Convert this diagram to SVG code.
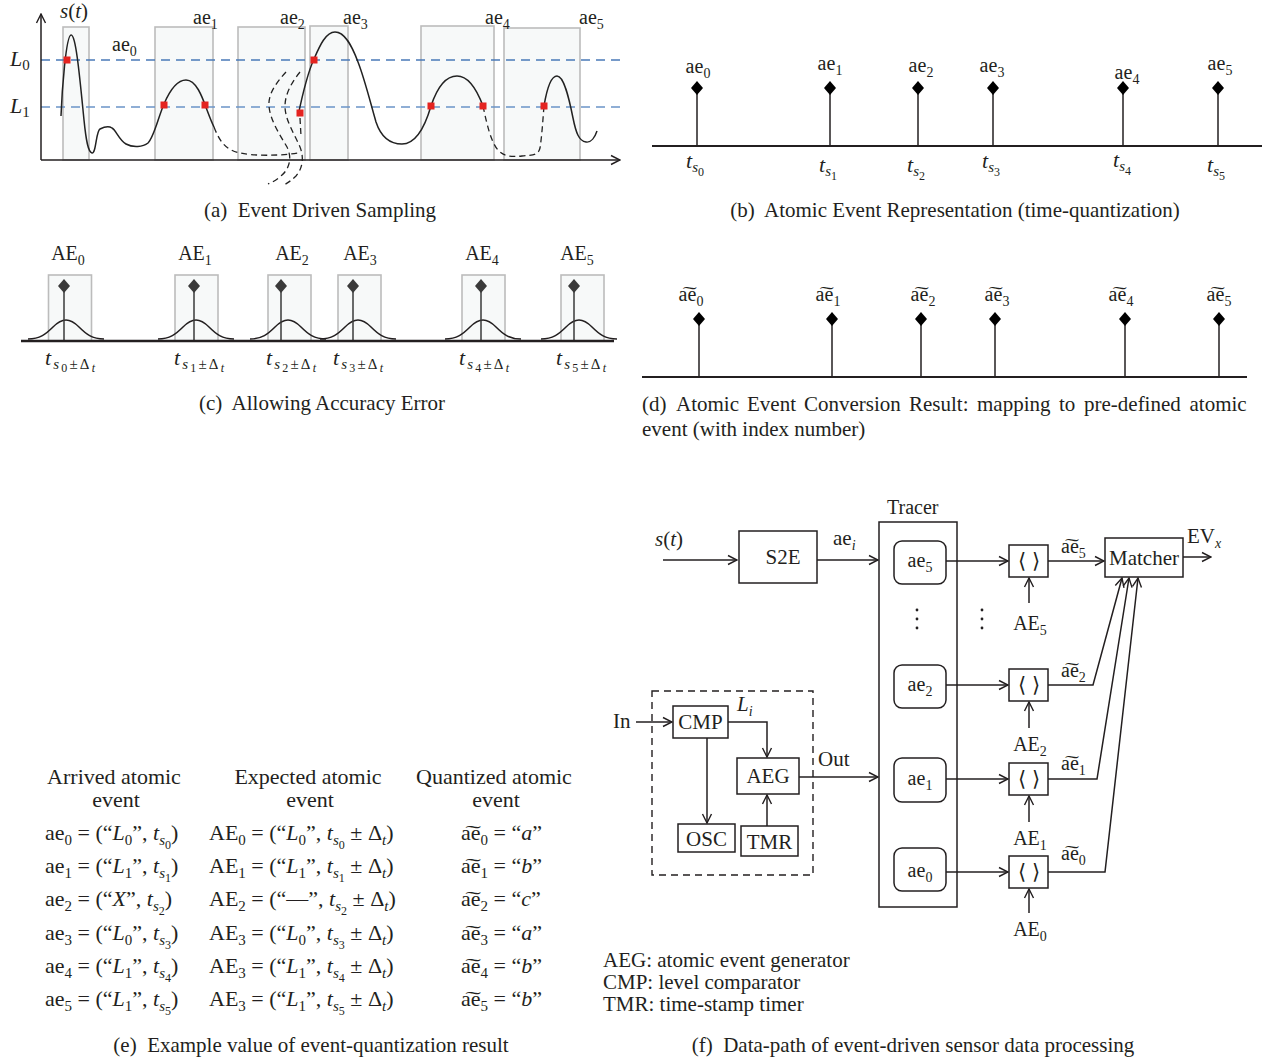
<svg xmlns="http://www.w3.org/2000/svg" width="1262" height="1062" viewBox="0 0 1262 1062">
<defs>
<marker id="arr" viewBox="0 0 12 12" refX="11" refY="6" markerWidth="12" markerHeight="12" markerUnits="userSpaceOnUse" orient="auto"><path d="M2,1.5 L11,6 L2,10.5" fill="none" stroke="#231f20" stroke-width="1.4"/></marker>
<path id="dia" d="M0,-7 L6,0 L0,7 L-6,0 Z"/>
<path id="bell" d="M-38,339 C-26,339 -20,334 -13,327 C-7,321 -4,320 0,320 C4,320 7,321 13,327 C20,334 26,339 38,339" fill="none" stroke="#231f20" stroke-width="1.5"/>
</defs>
<style>
text{font-family:"Liberation Serif","Times New Roman",serif;fill:#231f20}
.f20{font-size:20px}
.f21{font-size:21px}
.f22{font-size:22px}
.cap{font-size:21px}
.i{font-style:italic}
.sb{font-size:14px}
.sb2{font-size:15px}
.ss{font-size:10px}
.ss2{font-size:12px}
.mid{text-anchor:middle}
.ln{stroke:#231f20;stroke-width:1.5;fill:none}
.box{fill:#fff;stroke:#231f20;stroke-width:1.5}
.gbox{fill:#f7f9f9;stroke:#bcbcbc;stroke-width:1.6}
.lvl{stroke:#6b94c8;stroke-width:1.4;stroke-dasharray:9 6}
.crv{stroke:#222;stroke-width:1.5;fill:none}
.dash{stroke:#222;stroke-width:1.3;fill:none;stroke-dasharray:6 4}
.red{fill:#e42320}
.stem{stroke:#231f20;stroke-width:1.5}
.gstem{stroke:#3a3a3a;stroke-width:1.5}
</style>

<!-- Panel (a) -->
<g id="panel-a">
<rect class="gbox" x="63" y="27" width="26" height="133"/>
<rect class="gbox" x="155" y="27" width="58" height="133"/>
<rect class="gbox" x="238" y="27" width="67" height="133"/>
<rect class="gbox" x="310" y="26" width="38" height="134"/>
<rect class="gbox" x="421" y="26" width="73" height="134"/>
<rect class="gbox" x="504" y="28" width="76" height="132"/>
<line class="lvl" x1="41" y1="60" x2="625" y2="60" style="stroke:#4a7ab8"/>
<line class="lvl" x1="41" y1="107" x2="625" y2="107"/>
<path class="crv" d="M61,116 C62,90 66,36 71,35 C76,34 80,80 84,120 C86,140 88,152 92,153 C96,154 96,131 100,129 C104,127 109,126 112,128 C116,130 119,140 126,144 C133,148 143,147 148,143 C154,137 158,118 164,104 C170,90 177,80 186,80 C196,80 202,96 207,110 C210,118 212,123 214,127"/>
<path class="dash" d="M214,127 C219,140 225,150 240,153 C255,156 278,156 298,153"/>
<path class="dash" d="M286,72 C275,84 268,95 269,106 C270,120 280,135 287,147 C292,157 290,168 282,175 C278,179 273,182 268,184"/>
<path class="dash" d="M300,72 C291,83 285,95 285,106 C285,120 294,133 300,147 C304,157 303,168 296,176 C292,180 289,182 284,185"/>
<path class="dash" d="M300,118 L301,136"/>
<path class="crv" d="M298,116 C303,92 308,72 314,59 C320,45 326,32 335,32 C345,32 352,46 358,62 C365,80 371,105 376,122 C381,137 390,144 402,144 C414,144 424,130 431,106 C437,88 446,76 457,76 C468,76 477,90 483,106"/>
<path class="dash" d="M483,106 C487,125 491,142 498,150 C504,157 512,157 522,156 C532,155 538,156 540,148 C542,135 543,118 544,106"/>
<path class="crv" d="M544,106 C547,88 551,76 557,76 C564,76 569,98 573,118 C576,133 579,141 586,142 C591,143 595,137 597,131"/>
<rect class="red" x="63.5" y="56.5" width="7" height="7"/>
<rect class="red" x="160.5" y="101.5" width="7" height="7"/>
<rect class="red" x="201.5" y="101.5" width="7" height="7"/>
<rect class="red" x="296.5" y="109.5" width="7" height="7"/>
<rect class="red" x="310.5" y="56.5" width="7" height="7"/>
<rect class="red" x="427.5" y="102.5" width="7" height="7"/>
<rect class="red" x="479.5" y="102.5" width="7" height="7"/>
<rect class="red" x="540.5" y="102.5" width="7" height="7"/>
<path class="ln" d="M41,160 V14" marker-end="url(#arr)"/>
<path class="ln" d="M41,160 H620" marker-end="url(#arr)"/>
<text class="f21" x="60" y="18"><tspan class="i">s</tspan>(<tspan class="i">t</tspan>)</text>
<text class="f22" x="10" y="66"><tspan class="i">L</tspan><tspan class="sb2" dy="4">0</tspan></text>
<text class="f22" x="10" y="113"><tspan class="i">L</tspan><tspan class="sb2" dy="4">1</tspan></text>
<text class="f20" x="112" y="51">ae<tspan class="sb" dy="5">0</tspan></text>
<text class="f20" x="193" y="24">ae<tspan class="sb" dy="5">1</tspan></text>
<text class="f20" x="280" y="24">ae<tspan class="sb" dy="5">2</tspan></text>
<text class="f20" x="343" y="24">ae<tspan class="sb" dy="5">3</tspan></text>
<text class="f20" x="485" y="24">ae<tspan class="sb" dy="5">4</tspan></text>
<text class="f20" x="579" y="24">ae<tspan class="sb" dy="5">5</tspan></text>
<text class="cap mid" x="320" y="217">(a)&#160; Event Driven Sampling</text>
</g>

<!-- Panel (b) -->
<g id="panel-b">
<line class="ln" x1="652" y1="146" x2="1262" y2="146" style="stroke-width:2"/>
<line class="stem" x1="697" y1="88" x2="697" y2="146"/>
<line class="stem" x1="830" y1="88" x2="830" y2="146"/>
<line class="stem" x1="918" y1="88" x2="918" y2="146"/>
<line class="stem" x1="993" y1="88" x2="993" y2="146"/>
<line class="stem" x1="1123" y1="88" x2="1123" y2="146"/>
<line class="stem" x1="1218" y1="88" x2="1218" y2="146"/>
<use href="#dia" x="697" y="88"/>
<use href="#dia" x="830" y="88"/>
<use href="#dia" x="918" y="88"/>
<use href="#dia" x="993" y="88"/>
<use href="#dia" x="1123" y="88"/>
<use href="#dia" x="1218" y="88"/>
<text class="f20 mid" x="698" y="73">ae<tspan class="sb" dy="5">0</tspan></text>
<text class="f20 mid" x="830" y="70">ae<tspan class="sb" dy="5">1</tspan></text>
<text class="f20 mid" x="921" y="72">ae<tspan class="sb" dy="5">2</tspan></text>
<text class="f20 mid" x="992" y="72">ae<tspan class="sb" dy="5">3</tspan></text>
<text class="f20 mid" x="1127" y="79">ae<tspan class="sb" dy="5">4</tspan></text>
<text class="f20 mid" x="1220" y="70">ae<tspan class="sb" dy="5">5</tspan></text>
<text class="f22" x="686" y="168"><tspan class="i">t</tspan><tspan class="sb2 i" dy="4">s</tspan><tspan class="ss2" dy="4">0</tspan></text>
<text class="f22" x="819" y="172"><tspan class="i">t</tspan><tspan class="sb2 i" dy="4">s</tspan><tspan class="ss2" dy="4">1</tspan></text>
<text class="f22" x="907" y="172"><tspan class="i">t</tspan><tspan class="sb2 i" dy="4">s</tspan><tspan class="ss2" dy="4">2</tspan></text>
<text class="f22" x="982" y="168"><tspan class="i">t</tspan><tspan class="sb2 i" dy="4">s</tspan><tspan class="ss2" dy="4">3</tspan></text>
<text class="f22" x="1113" y="167"><tspan class="i">t</tspan><tspan class="sb2 i" dy="4">s</tspan><tspan class="ss2" dy="4">4</tspan></text>
<text class="f22" x="1207" y="172"><tspan class="i">t</tspan><tspan class="sb2 i" dy="4">s</tspan><tspan class="ss2" dy="4">5</tspan></text>
<text class="cap mid" x="955" y="217">(b)&#160; Atomic Event Representation (time-quantization)</text>
</g>

<!-- Panel (c) -->
<g id="panel-c">
<rect class="gbox" x="48.5" y="275" width="43" height="66"/>
<rect class="gbox" x="175" y="275" width="43" height="66"/>
<rect class="gbox" x="268" y="275" width="43" height="66"/>
<rect class="gbox" x="338" y="275" width="43" height="66"/>
<rect class="gbox" x="462" y="275" width="43" height="66"/>
<rect class="gbox" x="561" y="275" width="43" height="66"/>
<use href="#bell" x="66"/>
<use href="#bell" x="196"/>
<use href="#bell" x="288"/>
<use href="#bell" x="358"/>
<use href="#bell" x="483"/>
<use href="#bell" x="579"/>
<line class="gstem" x1="64" y1="286" x2="64" y2="341"/>
<line class="gstem" x1="194" y1="286" x2="194" y2="341"/>
<line class="gstem" x1="281" y1="286" x2="281" y2="341"/>
<line class="gstem" x1="353" y1="286" x2="353" y2="341"/>
<line class="gstem" x1="481" y1="286" x2="481" y2="341"/>
<line class="gstem" x1="574" y1="286" x2="574" y2="341"/>
<g fill="#3a3a3a">
<use href="#dia" x="64" y="286"/>
<use href="#dia" x="194" y="286"/>
<use href="#dia" x="281" y="286"/>
<use href="#dia" x="353" y="286"/>
<use href="#dia" x="481" y="286"/>
<use href="#dia" x="574" y="286"/>
</g>
<line class="ln" x1="21" y1="341" x2="614" y2="341" style="stroke-width:2.6"/>
<text class="f20 mid" x="68" y="260">AE<tspan class="sb" dy="5">0</tspan></text>
<text class="f20 mid" x="195" y="260">AE<tspan class="sb" dy="5">1</tspan></text>
<text class="f20 mid" x="292" y="260">AE<tspan class="sb" dy="5">2</tspan></text>
<text class="f20 mid" x="360" y="260">AE<tspan class="sb" dy="5">3</tspan></text>
<text class="f20 mid" x="482" y="260">AE<tspan class="sb" dy="5">4</tspan></text>
<text class="f20 mid" x="577" y="260">AE<tspan class="sb" dy="5">5</tspan></text>
<text class="f22" x="45" y="365" textLength="50"><tspan class="i">t</tspan><tspan class="sb2 i" dy="4">s</tspan><tspan class="ss2" dy="3">0</tspan><tspan class="sb2" dy="-3">±Δ</tspan><tspan class="ss2 i" dy="3">t</tspan></text>
<text class="f22" x="174" y="365" textLength="50"><tspan class="i">t</tspan><tspan class="sb2 i" dy="4">s</tspan><tspan class="ss2" dy="3">1</tspan><tspan class="sb2" dy="-3">±Δ</tspan><tspan class="ss2 i" dy="3">t</tspan></text>
<text class="f22" x="266" y="365" textLength="50"><tspan class="i">t</tspan><tspan class="sb2 i" dy="4">s</tspan><tspan class="ss2" dy="3">2</tspan><tspan class="sb2" dy="-3">±Δ</tspan><tspan class="ss2 i" dy="3">t</tspan></text>
<text class="f22" x="333" y="365" textLength="50"><tspan class="i">t</tspan><tspan class="sb2 i" dy="4">s</tspan><tspan class="ss2" dy="3">3</tspan><tspan class="sb2" dy="-3">±Δ</tspan><tspan class="ss2 i" dy="3">t</tspan></text>
<text class="f22" x="459" y="365" textLength="50"><tspan class="i">t</tspan><tspan class="sb2 i" dy="4">s</tspan><tspan class="ss2" dy="3">4</tspan><tspan class="sb2" dy="-3">±Δ</tspan><tspan class="ss2 i" dy="3">t</tspan></text>
<text class="f22" x="556" y="365" textLength="50"><tspan class="i">t</tspan><tspan class="sb2 i" dy="4">s</tspan><tspan class="ss2" dy="3">5</tspan><tspan class="sb2" dy="-3">±Δ</tspan><tspan class="ss2 i" dy="3">t</tspan></text>
<text class="cap mid" x="322" y="410">(c)&#160; Allowing Accuracy Error</text>
</g>

<!-- Panel (d) -->
<g id="panel-d">
<line class="ln" x1="642" y1="377" x2="1247" y2="377" style="stroke-width:2"/>
<line class="stem" x1="699" y1="319" x2="699" y2="377"/>
<line class="stem" x1="832" y1="319" x2="832" y2="377"/>
<line class="stem" x1="921" y1="319" x2="921" y2="377"/>
<line class="stem" x1="995" y1="319" x2="995" y2="377"/>
<line class="stem" x1="1125" y1="319" x2="1125" y2="377"/>
<line class="stem" x1="1219" y1="319" x2="1219" y2="377"/>
<use href="#dia" x="699" y="319"/>
<use href="#dia" x="832" y="319"/>
<use href="#dia" x="921" y="319"/>
<use href="#dia" x="995" y="319"/>
<use href="#dia" x="1125" y="319"/>
<use href="#dia" x="1219" y="319"/>
<text class="f20 mid" x="691" y="301">a&#x360;e<tspan class="sb" dy="5">0</tspan></text>
<text class="f20 mid" x="828" y="301">a&#x360;e<tspan class="sb" dy="5">1</tspan></text>
<text class="f20 mid" x="923" y="301">a&#x360;e<tspan class="sb" dy="5">2</tspan></text>
<text class="f20 mid" x="997" y="301">a&#x360;e<tspan class="sb" dy="5">3</tspan></text>
<text class="f20 mid" x="1121" y="301">a&#x360;e<tspan class="sb" dy="5">4</tspan></text>
<text class="f20 mid" x="1219" y="301">a&#x360;e<tspan class="sb" dy="5">5</tspan></text>
<text class="cap" x="642" y="411">(d)</text>
<text class="cap" x="676" y="411">Atomic</text>
<text class="cap" x="747" y="411">Event</text>
<text class="cap" x="804" y="411">Conversion</text>
<text class="cap" x="909" y="411">Result:</text>
<text class="cap" x="977" y="411">mapping</text>
<text class="cap" x="1059" y="411">to</text>
<text class="cap" x="1084" y="411">pre-defined</text>
<text class="cap" x="1189.5" y="411">atomic</text>
<text class="cap" x="642" y="436">event (with index number)</text>
</g>

<!-- Panel (e) -->
<g id="panel-e">
<text class="f22 mid" x="114" y="784">Arrived atomic</text>
<text class="f22 mid" x="116" y="807">event</text>
<text class="f22 mid" x="308" y="784">Expected atomic</text>
<text class="f22 mid" x="310" y="807">event</text>
<text class="f22 mid" x="494" y="784">Quantized atomic</text>
<text class="f22 mid" x="496" y="807">event</text>

<text class="f22" x="45" y="840">ae<tspan class="sb2" dy="5">0</tspan><tspan dy="-5"> = (“</tspan><tspan class="i">L</tspan><tspan class="sb2" dy="5">0</tspan><tspan dy="-5">”, </tspan><tspan class="i">t</tspan><tspan class="sb2 i" dy="5">s</tspan><tspan class="ss2" dy="4">0</tspan><tspan dy="-9">)</tspan></text>
<text class="f22" x="45" y="873">ae<tspan class="sb2" dy="5">1</tspan><tspan dy="-5"> = (“</tspan><tspan class="i">L</tspan><tspan class="sb2" dy="5">1</tspan><tspan dy="-5">”, </tspan><tspan class="i">t</tspan><tspan class="sb2 i" dy="5">s</tspan><tspan class="ss2" dy="4">1</tspan><tspan dy="-9">)</tspan></text>
<text class="f22" x="45" y="906">ae<tspan class="sb2" dy="5">2</tspan><tspan dy="-5"> = (“</tspan><tspan class="i">X</tspan><tspan>”, </tspan><tspan class="i">t</tspan><tspan class="sb2 i" dy="5">s</tspan><tspan class="ss2" dy="4">2</tspan><tspan dy="-9">)</tspan></text>
<text class="f22" x="45" y="940">ae<tspan class="sb2" dy="5">3</tspan><tspan dy="-5"> = (“</tspan><tspan class="i">L</tspan><tspan class="sb2" dy="5">0</tspan><tspan dy="-5">”, </tspan><tspan class="i">t</tspan><tspan class="sb2 i" dy="5">s</tspan><tspan class="ss2" dy="4">3</tspan><tspan dy="-9">)</tspan></text>
<text class="f22" x="45" y="973">ae<tspan class="sb2" dy="5">4</tspan><tspan dy="-5"> = (“</tspan><tspan class="i">L</tspan><tspan class="sb2" dy="5">1</tspan><tspan dy="-5">”, </tspan><tspan class="i">t</tspan><tspan class="sb2 i" dy="5">s</tspan><tspan class="ss2" dy="4">4</tspan><tspan dy="-9">)</tspan></text>
<text class="f22" x="45" y="1006">ae<tspan class="sb2" dy="5">5</tspan><tspan dy="-5"> = (“</tspan><tspan class="i">L</tspan><tspan class="sb2" dy="5">1</tspan><tspan dy="-5">”, </tspan><tspan class="i">t</tspan><tspan class="sb2 i" dy="5">s</tspan><tspan class="ss2" dy="4">5</tspan><tspan dy="-9">)</tspan></text>

<text class="f22" x="209" y="840">AE<tspan class="sb2" dy="5">0</tspan><tspan dy="-5"> = (“</tspan><tspan class="i">L</tspan><tspan class="sb2" dy="5">0</tspan><tspan dy="-5">”, </tspan><tspan class="i">t</tspan><tspan class="sb2 i" dy="5">s</tspan><tspan class="ss2" dy="4">0</tspan><tspan dy="-9"> ± Δ</tspan><tspan class="sb2 i" dy="5">t</tspan><tspan dy="-5">)</tspan></text>
<text class="f22" x="209" y="873">AE<tspan class="sb2" dy="5">1</tspan><tspan dy="-5"> = (“</tspan><tspan class="i">L</tspan><tspan class="sb2" dy="5">1</tspan><tspan dy="-5">”, </tspan><tspan class="i">t</tspan><tspan class="sb2 i" dy="5">s</tspan><tspan class="ss2" dy="4">1</tspan><tspan dy="-9"> ± Δ</tspan><tspan class="sb2 i" dy="5">t</tspan><tspan dy="-5">)</tspan></text>
<text class="f22" x="209" y="906">AE<tspan class="sb2" dy="5">2</tspan><tspan dy="-5"> = (“—”, </tspan><tspan class="i">t</tspan><tspan class="sb2 i" dy="5">s</tspan><tspan class="ss2" dy="4">2</tspan><tspan dy="-9"> ± Δ</tspan><tspan class="sb2 i" dy="5">t</tspan><tspan dy="-5">)</tspan></text>
<text class="f22" x="209" y="940">AE<tspan class="sb2" dy="5">3</tspan><tspan dy="-5"> = (“</tspan><tspan class="i">L</tspan><tspan class="sb2" dy="5">0</tspan><tspan dy="-5">”, </tspan><tspan class="i">t</tspan><tspan class="sb2 i" dy="5">s</tspan><tspan class="ss2" dy="4">3</tspan><tspan dy="-9"> ± Δ</tspan><tspan class="sb2 i" dy="5">t</tspan><tspan dy="-5">)</tspan></text>
<text class="f22" x="209" y="973">AE<tspan class="sb2" dy="5">3</tspan><tspan dy="-5"> = (“</tspan><tspan class="i">L</tspan><tspan class="sb2" dy="5">1</tspan><tspan dy="-5">”, </tspan><tspan class="i">t</tspan><tspan class="sb2 i" dy="5">s</tspan><tspan class="ss2" dy="4">4</tspan><tspan dy="-9"> ± Δ</tspan><tspan class="sb2 i" dy="5">t</tspan><tspan dy="-5">)</tspan></text>
<text class="f22" x="209" y="1006">AE<tspan class="sb2" dy="5">3</tspan><tspan dy="-5"> = (“</tspan><tspan class="i">L</tspan><tspan class="sb2" dy="5">1</tspan><tspan dy="-5">”, </tspan><tspan class="i">t</tspan><tspan class="sb2 i" dy="5">s</tspan><tspan class="ss2" dy="4">5</tspan><tspan dy="-9"> ± Δ</tspan><tspan class="sb2 i" dy="5">t</tspan><tspan dy="-5">)</tspan></text>

<text class="f22" x="461" y="840">a&#x360;e<tspan class="sb2" dy="5">0</tspan><tspan dy="-5"> = “</tspan><tspan class="i">a</tspan>”</text>
<text class="f22" x="461" y="873">a&#x360;e<tspan class="sb2" dy="5">1</tspan><tspan dy="-5"> = “</tspan><tspan class="i">b</tspan>”</text>
<text class="f22" x="461" y="906">a&#x360;e<tspan class="sb2" dy="5">2</tspan><tspan dy="-5"> = “</tspan><tspan class="i">c</tspan>”</text>
<text class="f22" x="461" y="940">a&#x360;e<tspan class="sb2" dy="5">3</tspan><tspan dy="-5"> = “</tspan><tspan class="i">a</tspan>”</text>
<text class="f22" x="461" y="973">a&#x360;e<tspan class="sb2" dy="5">4</tspan><tspan dy="-5"> = “</tspan><tspan class="i">b</tspan>”</text>
<text class="f22" x="461" y="1006">a&#x360;e<tspan class="sb2" dy="5">5</tspan><tspan dy="-5"> = “</tspan><tspan class="i">b</tspan>”</text>
<text class="cap mid" x="311" y="1052">(e)&#160; Example value of event-quantization result</text>
</g>

<!-- Panel (f) -->
<g id="panel-f">
<g id="connectors">
<path class="ln" d="M663,560 H737" marker-end="url(#arr)"/>
<path class="ln" d="M817,560 H878" marker-end="url(#arr)"/>
<path class="ln" d="M636,722 H672" marker-end="url(#arr)"/>
<path class="ln" d="M728,722 H767 V757" marker-end="url(#arr)"/>
<path class="ln" d="M707,738 V823" marker-end="url(#arr)"/>
<path class="ln" d="M767,826 V795" marker-end="url(#arr)"/>
<path class="ln" d="M799,777 H878" marker-end="url(#arr)"/>
<path class="ln" d="M946,561 H1008" marker-end="url(#arr)"/>
<path class="ln" d="M946,685 H1008" marker-end="url(#arr)"/>
<path class="ln" d="M946,779 H1008" marker-end="url(#arr)"/>
<path class="ln" d="M946,872 H1008" marker-end="url(#arr)"/>
<path class="ln" d="M1029,603 V578" marker-end="url(#arr)"/>
<path class="ln" d="M1029,728 V702" marker-end="url(#arr)"/>
<path class="ln" d="M1029,822 V796" marker-end="url(#arr)"/>
<path class="ln" d="M1029,913 V889" marker-end="url(#arr)"/>
<path class="ln" d="M1048,561 H1104" marker-end="url(#arr)"/>
<path class="ln" d="M1048,685 H1093 L1122,578" marker-end="url(#arr)"/>
<path class="ln" d="M1048,779 H1097 L1129,578" marker-end="url(#arr)"/>
<path class="ln" d="M1048,872 H1105 L1138,578" marker-end="url(#arr)"/>
<path class="ln" d="M1183,557 H1211" marker-end="url(#arr)"/>
</g>
<text class="f21" x="655" y="546"><tspan class="i">s</tspan>(<tspan class="i">t</tspan>)</text>
<text class="f21" x="833" y="545">ae<tspan class="sb i" dy="5">i</tspan></text>
<g id="s2e"><rect class="box" x="739" y="531" width="78" height="52"/><text class="f21 mid" x="783" y="564">S2E</text></g>
<g id="tracer">
<rect class="box" x="879" y="522" width="78" height="385" style="fill:none"/>
<text class="f20" x="887" y="514">Tracer</text>
</g>
<g id="tr-ae5"><rect class="box" x="894" y="541" width="52" height="43" rx="8"/><text class="f20 mid" x="920" y="567">ae<tspan class="sb" dy="5">5</tspan></text></g>
<g id="tr-ae2"><rect class="box" x="894" y="665" width="52" height="43" rx="8"/><text class="f20 mid" x="920" y="691">ae<tspan class="sb" dy="5">2</tspan></text></g>
<g id="tr-ae1"><rect class="box" x="894" y="758" width="52" height="44" rx="8"/><text class="f20 mid" x="920" y="785">ae<tspan class="sb" dy="5">1</tspan></text></g>
<g id="tr-ae0"><rect class="box" x="894" y="848" width="52" height="43" rx="8"/><text class="f20 mid" x="920" y="877">ae<tspan class="sb" dy="5">0</tspan></text></g>
<g fill="#231f20">
<circle cx="917" cy="610" r="1.4"/><circle cx="917" cy="619" r="1.4"/><circle cx="917" cy="628" r="1.4"/>
<circle cx="982" cy="610" r="1.4"/><circle cx="982" cy="619" r="1.4"/><circle cx="982" cy="628" r="1.4"/>
</g>
<g id="q5"><rect class="box" x="1009" y="545" width="39" height="32"/><text class="f21 mid" x="1029" y="568">⟨ ⟩</text></g>
<g id="q2"><rect class="box" x="1009" y="669" width="39" height="32"/><text class="f21 mid" x="1029" y="692">⟨ ⟩</text></g>
<g id="q1"><rect class="box" x="1009" y="763" width="39" height="32"/><text class="f21 mid" x="1029" y="786">⟨ ⟩</text></g>
<g id="q0"><rect class="box" x="1009" y="856" width="39" height="32"/><text class="f21 mid" x="1029" y="879">⟨ ⟩</text></g>
<text class="f20 mid" x="1030" y="630">AE<tspan class="sb" dy="5">5</tspan></text>
<text class="f20 mid" x="1030" y="751">AE<tspan class="sb" dy="5">2</tspan></text>
<text class="f20 mid" x="1030" y="845">AE<tspan class="sb" dy="5">1</tspan></text>
<text class="f20 mid" x="1030" y="936">AE<tspan class="sb" dy="5">0</tspan></text>
<text class="f20" x="1061" y="553">a&#x360;e<tspan class="sb" dy="5">5</tspan></text>
<text class="f20" x="1061" y="677">a&#x360;e<tspan class="sb" dy="5">2</tspan></text>
<text class="f20" x="1061" y="770">a&#x360;e<tspan class="sb" dy="5">1</tspan></text>
<text class="f20" x="1061" y="860">a&#x360;e<tspan class="sb" dy="5">0</tspan></text>
<g id="matcher"><rect class="box" x="1105" y="538" width="78" height="39"/><text class="f21 mid" x="1144" y="565">Matcher</text></g>
<text class="f21" x="1187" y="543">EV<tspan class="sb i" dy="5">x</tspan></text>
<g id="sensor">
<rect x="652" y="691" width="161" height="184" fill="none" stroke="#231f20" stroke-width="1.4" stroke-dasharray="7 5"/>
</g>
<text class="f21" x="613" y="728">In</text>
<g id="cmp"><rect class="box" x="673" y="706" width="55" height="32"/><text class="f21 mid" x="700.5" y="729">CMP</text></g>
<text class="f21" x="737" y="711"><tspan class="i">L</tspan><tspan class="sb i" dy="5">i</tspan></text>
<g id="aeg"><rect class="box" x="737" y="758" width="62" height="36"/><text class="f21 mid" x="768" y="783">AEG</text></g>
<g id="osc"><rect class="box" x="678" y="824" width="57" height="28"/><text class="f21 mid" x="706.5" y="846">OSC</text></g>
<g id="tmr"><rect class="box" x="741" y="826" width="57" height="30"/><text class="f21 mid" x="769.5" y="849">TMR</text></g>
<text class="f21" x="818" y="766">Out</text>
<text class="f21" x="603" y="967">AEG: atomic event generator</text>
<text class="f21" x="603" y="989">CMP: level comparator</text>
<text class="f21" x="603" y="1011">TMR: time-stamp timer</text>
<text class="cap mid" x="913" y="1052">(f)&#160; Data-path of event-driven sensor data processing</text>
</g>
</svg>
